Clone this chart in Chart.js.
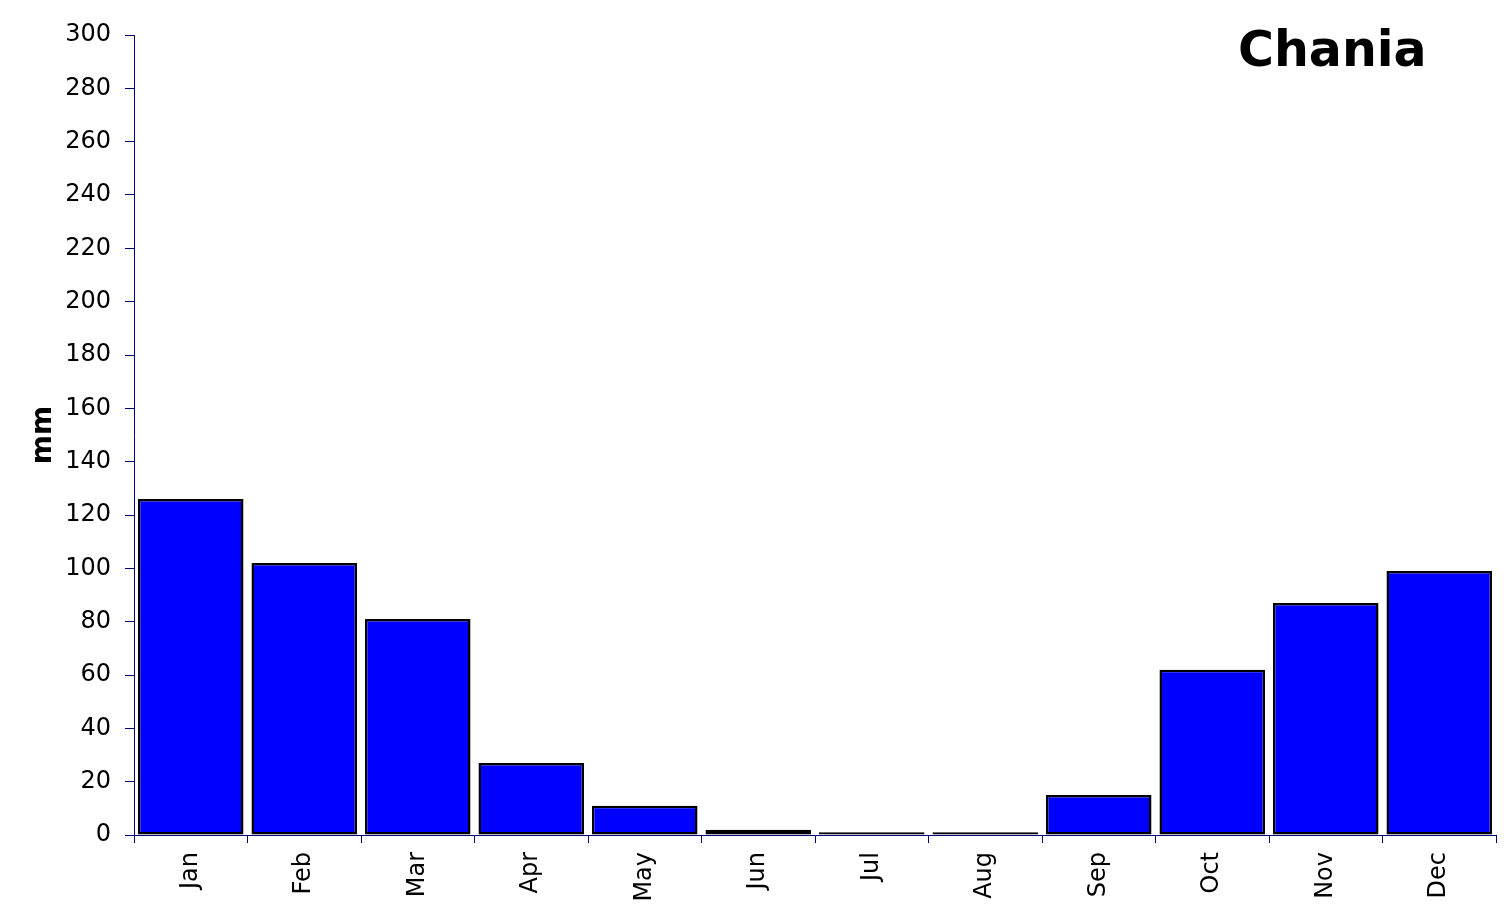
<!DOCTYPE html>
<html>
<head>
<meta charset="utf-8">
<script src="https://cdn.jsdelivr.net/npm/chart.js@4"></script>
<style>
  html, body { margin: 0; padding: 0; background: #fff; }
  #wrap { width: 1512px; height: 922px; }
</style>
</head>
<body>
<div id="wrap"><canvas id="myChart" width="1512" height="922"></canvas></div>
<script>
const months = ["Jan", "Feb", "Mar", "Apr", "May", "Jun", "Jul", "Aug", "Sep", "Oct", "Nov", "Dec"];
const rainfall = [126, 102, 81, 27, 11, 2, 1, 1, 15, 62, 87, 99];
const yMin = 0;
const yMax = 300;
const yStep = 20;
const stationName = "Chania";
const yTitle = "mm";

const axisColor = "#000080";
const font = "'DejaVu Sans', Verdana, sans-serif";

// draws the station name in the top right corner
const namePlugin = {
  id: "stationName",
  afterDraw(chart) {
    const ctx = chart.ctx;
    ctx.save();
    ctx.font = "bold 49px " + font;
    ctx.fillStyle = "#000";
    ctx.textAlign = "left";
    ctx.textBaseline = "alphabetic";
    ctx.fillText(stationName, 1238, 66);
    ctx.restore();
  }
};

const ctx = document.getElementById("myChart");
const myChart = new Chart(ctx, {
  type: "bar",
  data: {
    labels: months,
    datasets: [{
      data: rainfall,
      backgroundColor: "#0000ff",
      borderColor: "#000000",
      borderWidth: 2.5,
      borderSkipped: false,
      barPercentage: 0.93,
      categoryPercentage: 1.0
    }]
  },
  options: {
    responsive: false,
    animation: false,
    layout: { padding: { top: 35, right: 16, left: 0, bottom: 0 } },
    plugins: {
      legend: { display: false },
      tooltip: { enabled: false }
    },
    scales: {
      x: {
        afterFit(scale) { scale.height = 87; },
        grid: {
          offset: true,
          drawOnChartArea: false,
          drawTicks: true,
          tickLength: 8,
          color: axisColor,
          lineWidth: 1
        },
        border: { display: true, color: axisColor, width: 1 },
        ticks: {
          color: "#000",
          font: { family: font, size: 24 },
          maxRotation: 90,
          minRotation: 90,
          padding: 9,
          autoSkip: false
        }
      },
      y: {
        min: yMin,
        max: yMax,
        afterFit(scale) { scale.width = 134; },
        grid: {
          drawOnChartArea: false,
          drawTicks: true,
          tickLength: 9,
          color: axisColor,
          lineWidth: 1
        },
        border: { display: true, color: axisColor, width: 1 },
        ticks: {
          stepSize: yStep,
          color: "#000",
          font: { family: font, size: 24 },
          padding: 14
        },
        title: {
          display: true,
          text: yTitle,
          color: "#000",
          font: { family: font, size: 28, weight: "bold" },
          padding: { top: 27, bottom: 0 }
        }
      }
    }
  },
  plugins: [namePlugin]
});
</script>
</body>
</html>
